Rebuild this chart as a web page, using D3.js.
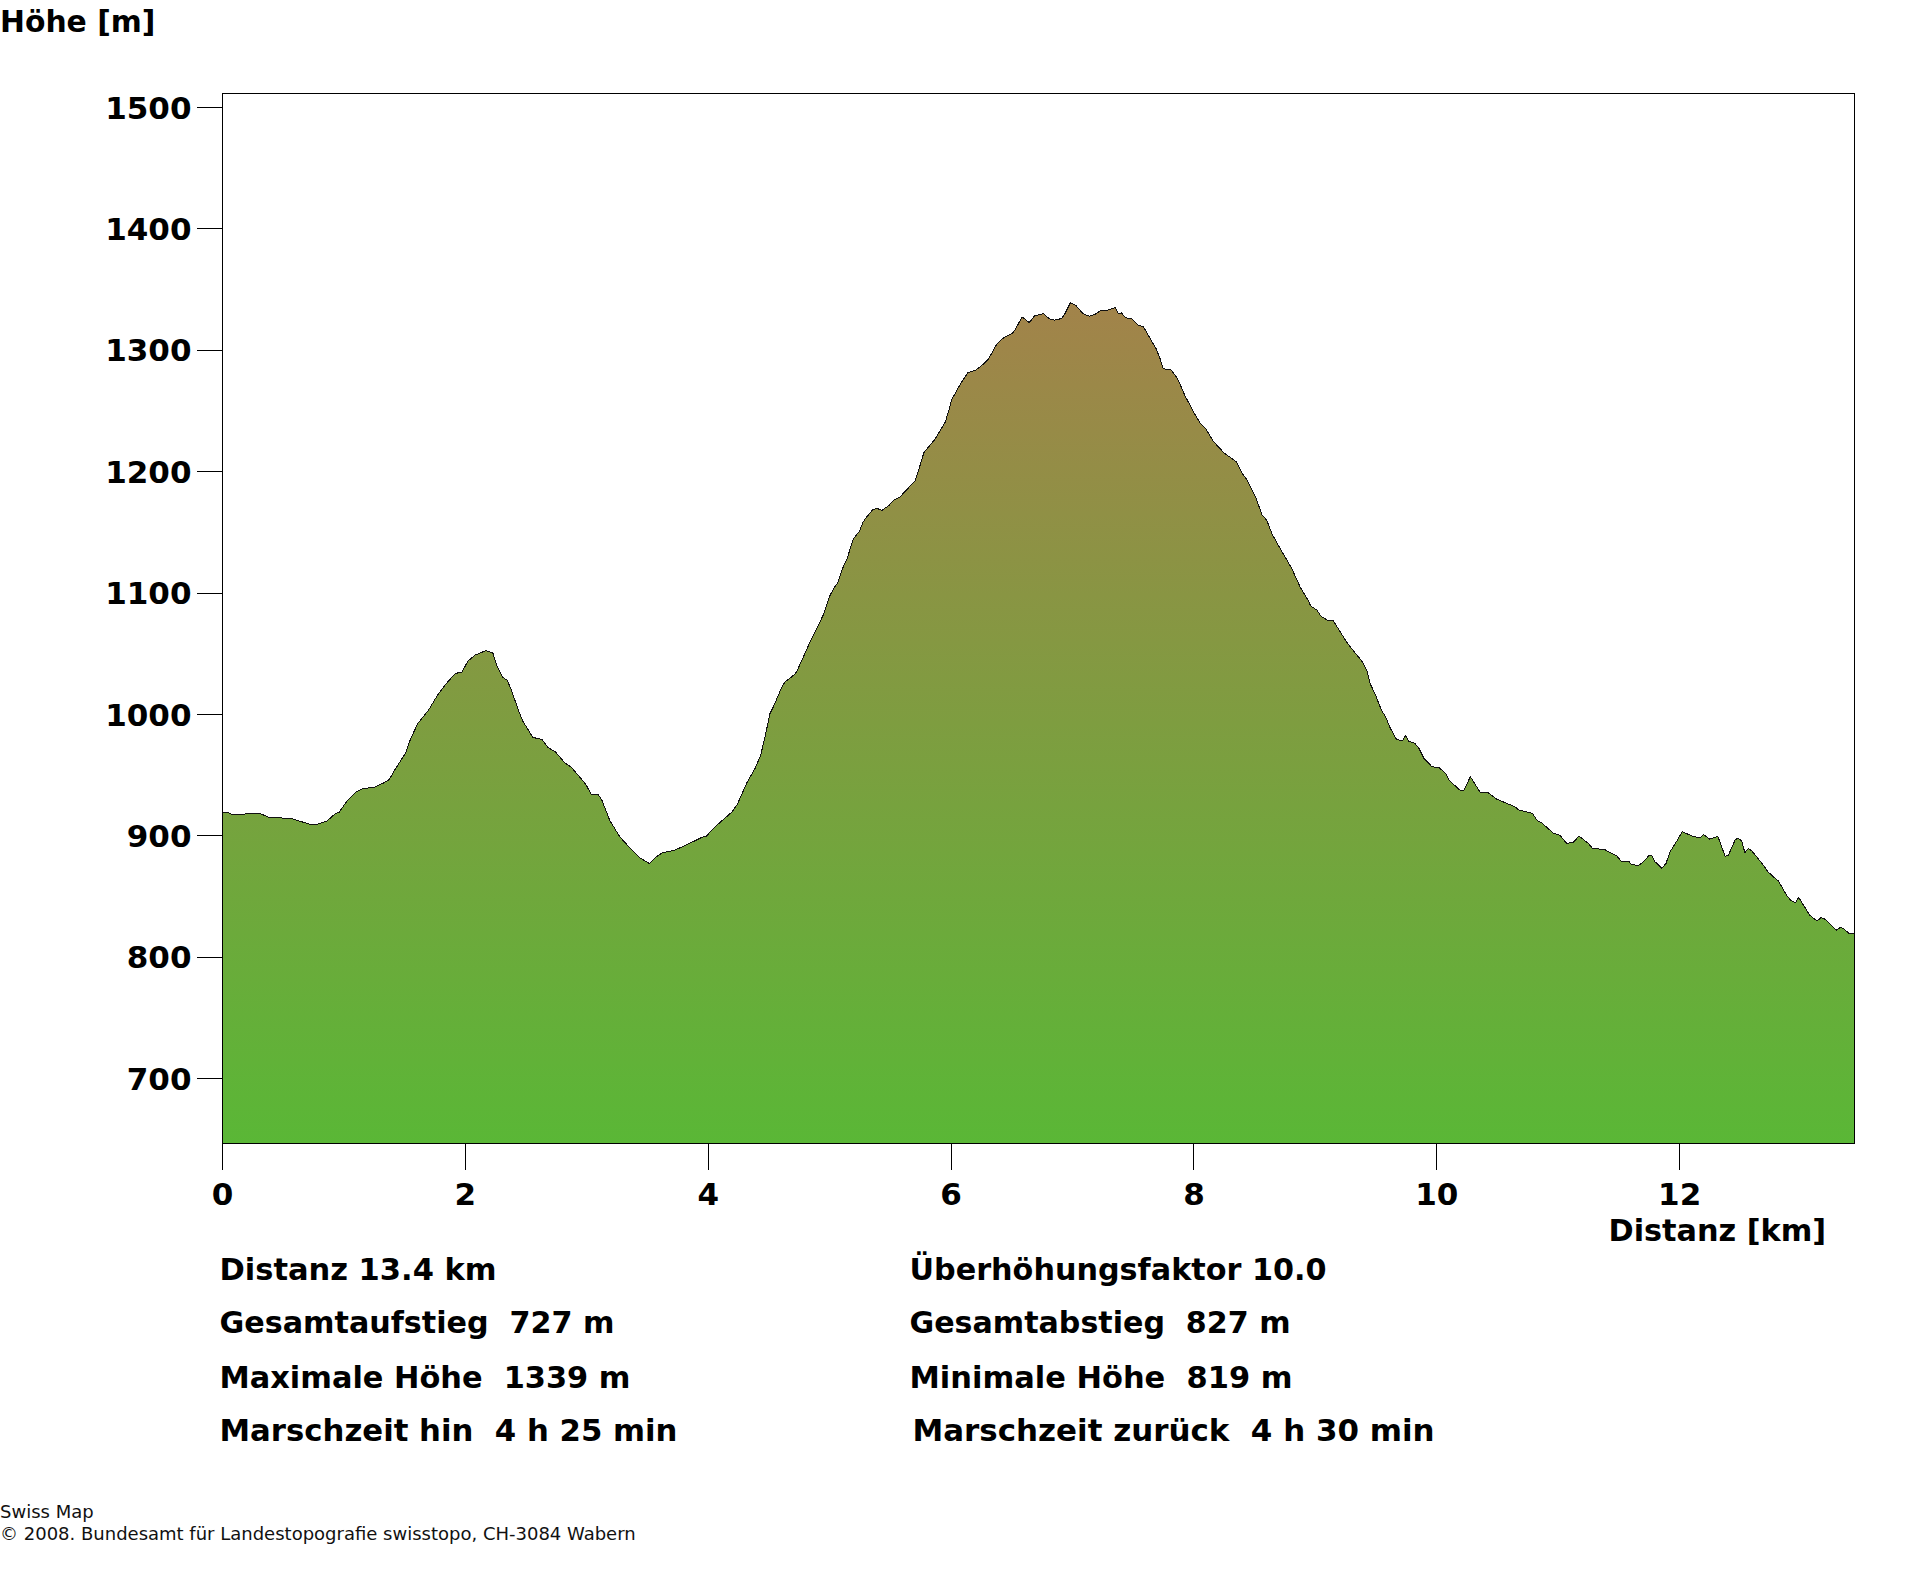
<!DOCTYPE html>
<html>
<head>
<meta charset="utf-8">
<script src="https://cdn.jsdelivr.net/npm/d3@7"></script>
<style>
    html, body { margin: 0; padding: 0; background: #fff; }
    svg { display: block; }
    text { font-family: "DejaVu Sans", sans-serif; font-weight: bold; fill: #000; white-space: pre; }
    .small { font-weight: normal; font-size: 18px; fill: #111; }
    .axis path { display: none; }
    .axis line { stroke: #000; stroke-width: 1; shape-rendering: crispEdges; }
    .axis text { font-size: 31px; }
    .info { font-size: 30.5px; }
</style>
</head>
<body>
<div id="chart"></div>
<script>
// Profile
const distanceKm = [
    0, 0.05, 0.079, 0.182, 0.212, 0.309, 0.374, 0.462, 0.574, 0.653, 0.726, 0.785, 0.859, 0.932, 0.962,
    1.021, 1.094, 1.153, 1.256, 1.329, 1.374, 1.418, 1.506, 1.55, 1.609, 1.697, 1.771, 1.844, 1.918, 1.971,
    2.021, 2.079, 2.168, 2.226, 2.262, 2.309, 2.344, 2.379, 2.441, 2.476, 2.556, 2.632, 2.682, 2.741, 2.815,
    2.874, 2.991, 3.035, 3.094, 3.124, 3.188, 3.271, 3.359, 3.432, 3.515, 3.565, 3.624, 3.726, 3.8, 3.947,
    3.985, 4.05, 4.197, 4.241, 4.322, 4.386, 4.432, 4.468, 4.509, 4.537, 4.605, 4.633, 4.688, 4.715, 4.734,
    4.784, 4.839, 4.921, 4.953, 4.997, 5.033, 5.071, 5.1, 5.144, 5.174, 5.197, 5.247, 5.276, 5.306, 5.356,
    5.394, 5.43, 5.491, 5.526, 5.579, 5.703, 5.724, 5.776, 5.865, 5.953, 5.982, 6.003, 6.071, 6.138, 6.203,
    6.247, 6.306, 6.379, 6.424, 6.512, 6.541, 6.585, 6.644, 6.688, 6.762, 6.806, 6.85, 6.909, 6.938, 6.983,
    7.026, 7.085, 7.138, 7.188, 7.238, 7.285, 7.35, 7.379, 7.403, 7.438, 7.491, 7.541, 7.585, 7.644, 7.688,
    7.718, 7.747, 7.776, 7.806, 7.865, 7.924, 7.997, 8.05, 8.1, 8.159, 8.247, 8.35, 8.394, 8.438, 8.512,
    8.562, 8.6, 8.644, 8.718, 8.806, 8.874, 8.939, 8.962, 9.013, 9.046, 9.097, 9.147, 9.265, 9.382, 9.426,
    9.45, 9.49, 9.544, 9.578, 9.618, 9.668, 9.719, 9.742, 9.769, 9.82, 9.853, 9.894, 9.961, 10.021, 10.072,
    10.105, 10.19, 10.223, 10.277, 10.358, 10.418, 10.492, 10.643, 10.677, 10.788, 10.828, 10.862, 10.963, 11.013, 11.07,
    11.124, 11.171, 11.249, 11.282, 11.35, 11.38, 11.484, 11.518, 11.585, 11.602, 11.662, 11.703, 11.746, 11.77, 11.797,
    11.854, 11.888, 11.921, 11.965, 12.022, 12.106, 12.167, 12.197, 12.247, 12.315, 12.375, 12.402, 12.459, 12.483, 12.51,
    12.537, 12.567, 12.594, 12.678, 12.728, 12.762, 12.812, 12.88, 12.913, 12.953, 12.98, 13.071, 13.132, 13.165, 13.199,
    13.29, 13.323, 13.35, 13.394, 13.44
];
const elevationM = [
    919.6, 919, 917.6, 917.9, 918.5, 918.5, 915.5, 914.9, 914.1, 911.6, 909.4, 909.7, 912.2, 918.5, 919.6,
    928.1, 935.8, 938.8, 940.2, 943.7, 946.5, 954.2, 967.9, 980.2, 992.6, 1003.6, 1015.9, 1025.6, 1033.8, 1034.9,
    1043.9, 1048.9, 1052.5, 1050.8, 1039.3, 1030.5, 1028.3, 1020.1, 1002.2, 994, 981.1, 979.4, 972.6, 969.3, 960.5,
    956.4, 942.6, 934.4, 934.1, 929.5, 913, 899.3, 889.6, 882.2, 877.3, 882.2, 886.1, 888.3, 891.6, 898.7,
    899.8, 906.9, 919.8, 926.2, 944.5, 955.5, 966.5, 981.6, 1000.8, 1006.3, 1022.3, 1026.9, 1031.1, 1033.2, 1036.5,
    1047.5, 1059.9, 1076.4, 1083.1, 1096.9, 1103.7, 1109.2, 1118.8, 1128.4, 1138, 1144.9, 1151.2, 1158.6, 1162.8, 1168.8,
    1169.6, 1168, 1172.4, 1176.5, 1179.2, 1192.4, 1198.4, 1215.7, 1226.4, 1241, 1250.6, 1258.9, 1271.2, 1281.6, 1283.6,
    1286.9, 1292.4, 1305.5, 1309.6, 1314.6, 1319.3, 1327.5, 1322.8, 1328.3, 1330.2, 1326.1, 1324.8, 1326.1, 1330.2, 1339.3,
    1337.1, 1330.2, 1328, 1329.7, 1333, 1333, 1335.2, 1330.2, 1330.8, 1326.7, 1325.8, 1320.6, 1319.3, 1308.8, 1301.4,
    1294, 1284.9, 1284.1, 1284.4, 1276.7, 1263, 1249.2, 1240.2, 1235, 1225.1, 1215.5, 1208.1, 1199, 1193, 1177.9,
    1164.1, 1160, 1148.5, 1135.3, 1120.2, 1105.1, 1094.2, 1089.3, 1086, 1081, 1077.7, 1077.2, 1058.5, 1044, 1036,
    1025.6, 1017.3, 1003.6, 998.1, 988.5, 979.4, 978.3, 982.7, 978, 976.1, 972, 963.8, 956.9, 956.1, 951.4,
    945.4, 937.7, 937.7, 948.7, 935.8, 935.8, 930.3, 924, 921.2, 918.5, 912.4, 910.8, 902, 900.6, 893.8,
    894.6, 899.8, 893.8, 889.6, 889.1, 888.8, 883.3, 879.2, 878.7, 876.5, 875.6, 878.7, 883.6, 883.9, 878.7,
    873.2, 877.3, 886.9, 893.8, 903.4, 899.8, 898.2, 901.2, 897.3, 899.5, 883, 884.2, 897.1, 897.9, 896,
    886.3, 889.6, 887.7, 877.3, 870.4, 867.1, 863, 851.2, 847.1, 844.9, 849.3, 834.7, 829.8, 832.8, 831.2,
    822.4, 824.6, 823.7, 819.6, 819.1
];
const xTicks = [0, 2, 4, 6, 8, 10, 12];
const yTicks = [700, 800, 900, 1000, 1100, 1200, 1300, 1400, 1500];
const infoLeft = ["Distanz 13.4 km", "Gesamtaufstieg  727 m", "Maximale Höhe  1339 m", "Marschzeit hin  4 h 25 min"];
const infoRight = ["Überhöhungsfaktor 10.0", "Gesamtabstieg  827 m", "Minimale Höhe  819 m", "Marschzeit zurück  4 h 30 min"];
const gradientColors = ["#5ab736", "#a2834a"];

const width = 1920;
const height = 1572;
const plot = { left: 222.5, right: 1854.5, top: 93.5, bottom: 1143.5 };
const rowBaselines = [1279.5, 1333, 1387.5, 1441];
const leftWidths = [277, 395, 411, 458];
const rightWidths = [417, 381, 383, 522];

const svg = d3.select("#chart")
    .append("svg")
    .attr("width", width)
    .attr("height", height);

const x = d3.scaleLinear().domain([0, 13.44]).range([plot.left, plot.right]);
const y = d3.scaleLinear().domain([646.6, 1511.5]).range([plot.bottom, plot.top]);

// Colour follows the height, green at the foot and brown at the summit
const grad = svg.append("defs").append("linearGradient")
    .attr("id", "height-fill")
    .attr("gradientUnits", "userSpaceOnUse")
    .attr("x1", 0).attr("x2", 0)
    .attr("y1", y(646.6)).attr("y2", y(1339.3));
grad.selectAll("stop")
    .data(gradientColors)
    .enter().append("stop")
    .attr("offset", (d, i) => i)
    .attr("stop-color", d => d);

const area = d3.area()
    .x((d, i) => x(distanceKm[i]))
    .y0(plot.bottom)
    .y1(d => y(d));
const line = d3.line()
    .x((d, i) => x(distanceKm[i]))
    .y(d => y(d));

svg.append("path")
    .attr("d", area(elevationM))
    .attr("fill", "url(#height-fill)");
// the outline in the original is a hard 1px staircase
svg.append("path")
    .attr("d", line(elevationM))
    .attr("fill", "none")
    .attr("stroke", "#111")
    .attr("stroke-width", 1)
    .attr("shape-rendering", "crispEdges");

// Frame
svg.append("rect")
    .attr("x", plot.left).attr("y", plot.top)
    .attr("width", plot.right - plot.left).attr("height", plot.bottom - plot.top)
    .attr("fill", "none")
    .attr("stroke", "#000")
    .attr("stroke-width", 1)
    .attr("shape-rendering", "crispEdges");

// Axes
svg.append("g")
    .attr("class", "axis")
    .attr("transform", `translate(${plot.left}, 0)`)
    .call(d3.axisLeft(y).tickValues(yTicks).tickFormat(d3.format("d")).tickSize(26).tickPadding(5).offset(0))
    .selectAll("text").attr("dy", "0.36em");

svg.append("g")
    .attr("class", "axis")
    .attr("transform", `translate(0, ${plot.bottom})`)
    .call(d3.axisBottom(x).tickValues(xTicks).tickSize(26).tickPadding(13).offset(0));

// Titles
svg.append("text").attr("x", 0).attr("y", 32).attr("font-size", 29.8).text("Höhe [m]");
svg.append("text").attr("x", 1608.5).attr("y", 1241).attr("font-size", 30.3).text("Distanz [km]");

// Summary rows, each fitted to the width it has in the original
svg.selectAll(".info-left")
    .data(infoLeft)
    .enter().append("text")
    .attr("class", "info info-left")
    .attr("x", 219.5)
    .attr("y", (d, i) => rowBaselines[i])
    .attr("textLength", (d, i) => leftWidths[i])
    .attr("lengthAdjust", "spacingAndGlyphs")
    .text(d => d);
svg.selectAll(".info-right")
    .data(infoRight)
    .enter().append("text")
    .attr("class", "info info-right")
    .attr("x", (d, i) => i == 3 ? 912.5 : 909.5)
    .attr("y", (d, i) => rowBaselines[i])
    .attr("textLength", (d, i) => rightWidths[i])
    .attr("lengthAdjust", "spacingAndGlyphs")
    .text(d => d);

// Footer
svg.append("text").attr("class", "small").attr("x", 0).attr("y", 1518).text("Swiss Map");
svg.append("text").attr("class", "small").attr("x", 0).attr("y", 1540).text("© 2008. Bundesamt für Landestopografie swisstopo, CH-3084 Wabern");
</script>
</body>
</html>
